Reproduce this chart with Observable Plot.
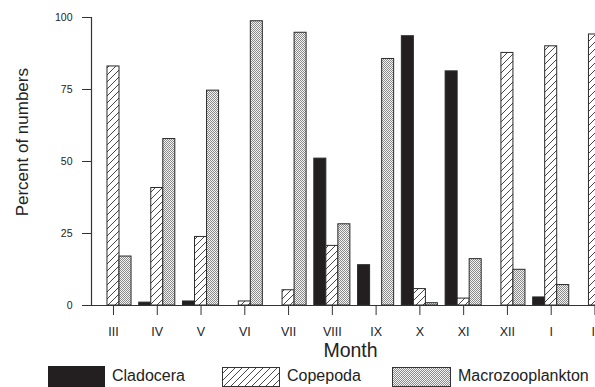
<!DOCTYPE html>
<html>
<head>
<meta charset="utf-8">
<script src="https://cdn.jsdelivr.net/npm/d3@7"></script>
<script src="https://cdn.jsdelivr.net/npm/@observablehq/plot@0.6"></script>
<style>
  body { margin: 0; background: #fff; }
  #wrap { position: relative; width: 595px; height: 387px; overflow: hidden; font-family: "Liberation Sans", Arial, sans-serif; color: #222; }
  #chart { position: absolute; left: 0; top: 0; }
  .sw { position: absolute; }
  .lt { position: absolute; font-size: 16px; line-height: 16px; white-space: nowrap; color: #222; }
</style>
</head>
<body>
<svg width="0" height="0" style="position:absolute">
  <defs>
    <pattern id="hatch" patternUnits="userSpaceOnUse" width="7" height="7">
      <rect width="7" height="7" fill="#fff"/>
      <path d="M0,7 L7,0 M-1,1 L1,-1 M6,8 L8,6" stroke="#333" stroke-width="0.9"/>
    </pattern>
    <pattern id="stipple" patternUnits="userSpaceOnUse" width="2" height="2">
      <rect width="2" height="2" fill="#f4f4f4"/>
      <rect x="0" y="0" width="1" height="1" fill="#8a8a8a"/>
      <rect x="1" y="1" width="1" height="1" fill="#8a8a8a"/>
    </pattern>
  </defs>
</svg>
<div id="wrap">
  <div id="chart"></div>
  <svg class="sw" style="left:48px; top:366px" width="57" height="21"><rect x="0.5" y="0.5" width="56" height="20" fill="#231f20" stroke="#231f20"/></svg>
  <div class="lt" style="left:112px; top:368px">Cladocera</div>
  <svg class="sw" style="left:222px; top:367px" width="58" height="20"><rect x="0.5" y="0.5" width="57" height="19" fill="url(#hatch)" stroke="#333"/></svg>
  <div class="lt" style="left:287px; top:368px">Copepoda</div>
  <svg class="sw" style="left:392px; top:367px" width="59" height="20"><rect x="0.5" y="0.5" width="58" height="19" fill="url(#stipple)" stroke="#333"/></svg>
  <div class="lt" style="left:458px; top:368px">Macrozooplankton</div>
</div>
<script>
const months = ["III","IV","V","VI","VII","VIII","IX","X","XI","XII","I","II"];
const cladocera = [0, 1, 1.4, 0, 0, 51, 14, 93.5, 81.3, 0, 2.8, 0];
const copepoda = [83, 40.8, 23.8, 1.4, 5.3, 20.7, 0, 5.7, 2.4, 87.7, 90, 94.1];
const macrozooplankton = [17, 57.8, 74.6, 98.7, 94.7, 28.2, 85.6, 0.8, 16.1, 12.4, 7.1, 6];
const yTicks = [0, 25, 50, 75, 100];

const rows = (vals) => months.map((m, i) => ({month: m, value: vals[i]})).filter(d => d.value > 0);

const bw = 43.77 * (1 - 0.176);
const third = bw / 3;
const barStyle = {stroke: "#2a2a2a", strokeWidth: 1};

const chart = Plot.plot({
  width: 595,
  height: 362,
  marginLeft: 91,
  marginRight: 0,
  marginTop: 17,
  marginBottom: 57,
  style: {fontFamily: "Liberation Sans, Arial, sans-serif", color: "#222", background: "transparent"},
  x: {domain: months, range: [87.26, 620.2], padding: 0.176, round: false},
  y: {domain: [0, 100]},
  marks: [
    Plot.barY(rows(cladocera), {x: "month", y: "value", fill: "#231f20", insetLeft: 0, insetRight: 2 * third, ...barStyle}),
    Plot.barY(rows(copepoda), {x: "month", y: "value", fill: "url(#hatch)", insetLeft: third, insetRight: third, ...barStyle}),
    Plot.barY(rows(macrozooplankton), {x: "month", y: "value", fill: "url(#stipple)", insetLeft: 2 * third, insetRight: 0, ...barStyle}),
    Plot.ruleY([0], {stroke: "#333", strokeWidth: 1.2}),
    Plot.frame({anchor: "left", stroke: "#333", strokeWidth: 1.2}),
    Plot.axisY({ticks: yTicks, tickSize: 9, tickPadding: 10, fontSize: 10.5, label: null, stroke: "#333", style: {letterSpacing: "1.2px"}}),
    Plot.axisX({tickSize: 10, tickPadding: 12, fontSize: 12.5, label: null, stroke: "#333"}),
    Plot.text(["Month"], {frameAnchor: "bottom", dx: 7, dy: 45.5, fontSize: 19.5, fill: "#222", textAnchor: "middle", lineAnchor: "middle"}),
    Plot.text(["Percent of numbers"], {frameAnchor: "left", rotate: -90, dx: -69.4, dy: -19.3, fontSize: 17, fill: "#222", textAnchor: "middle", lineAnchor: "middle"})
  ]
});
document.getElementById("chart").appendChild(chart);
</script>
</body>
</html>
